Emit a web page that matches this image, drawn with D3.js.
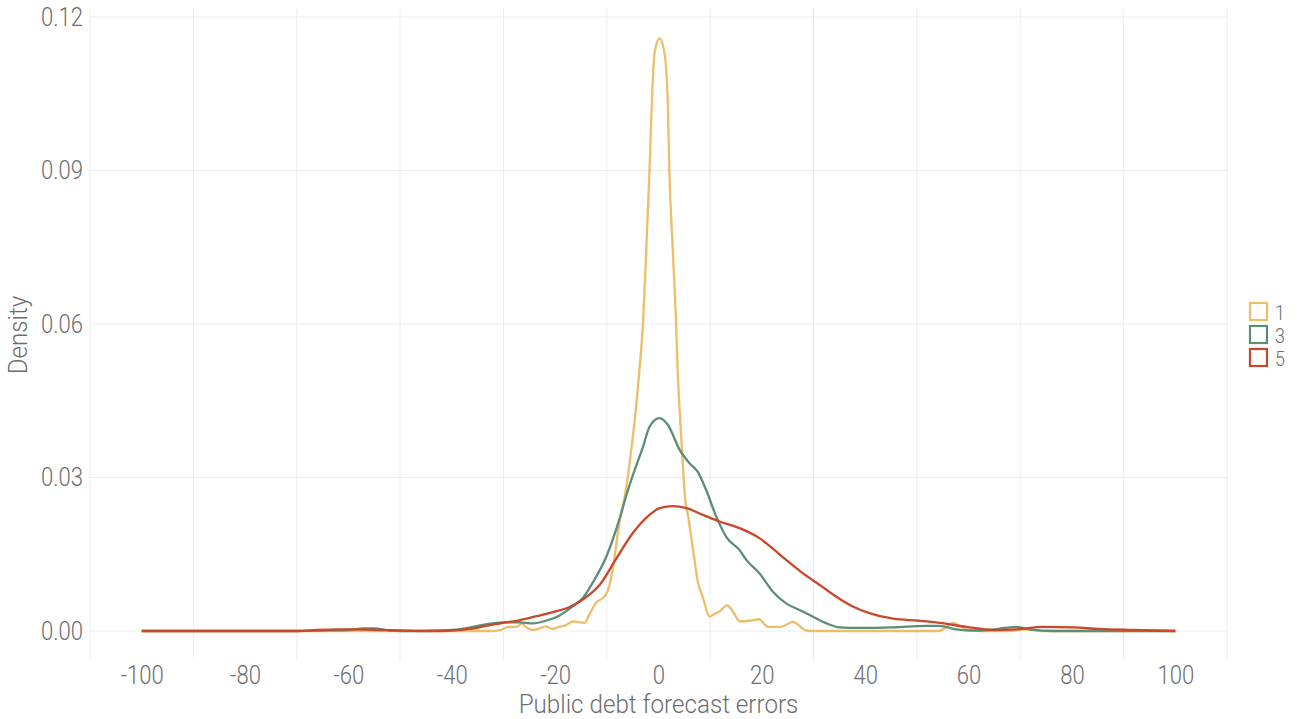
<!DOCTYPE html>
<html>
<head>
<meta charset="utf-8">
<script src="https://cdn.jsdelivr.net/npm/d3@7"></script>
<style>
  html, body { margin: 0; padding: 0; background: #ffffff; }
  svg text { font-family: Roboto, "Noto Sans", sans-serif; font-weight: 300; fill: #6e6e6e; }
</style>
</head>
<body>
<svg id="chart" width="1299" height="719"></svg>
<script>
// Forecast horizon groups (years ahead)
const horizons = ["1", "3", "5"];
const colors = ["#EDBD68", "#5C8E77", "#C9472A"];

// Kernel density of public debt forecast errors, horizon 1
const errors1 = [-100, -40, -32, -30.5, -29, -27.5, -26.5, -25.5, -24.3, -23, -21.8, -20.5, -19.2, -18, -16.5, -15.3, -14.3, -13.4, -12.1, -10.5, -9.6, -8.8, -7.6, -6.3, -5.6, -4.6, -3.7, -3.0, -2.4, -1.74, -1.3, -0.77, 0.2, 1.16, 1.8, 2.1, 2.8, 3.4, 3.7, 4.2, 4.7, 5.0, 5.8, 6.6, 7.6, 8.6, 9.9, 10.8, 11.8, 13.3, 14.4, 15.7, 17.6, 19.4, 21.2, 23.7, 26, 28.6, 30, 54, 55.5, 57, 58.5, 60, 62, 68, 71, 74, 100];
const density1 = [0, 0, 0, 0.0002, 0.0008, 0.0008, 0.0014, 0.0007, 0.0002, 0.0005, 0.0009, 0.0004, 0.0008, 0.0011, 0.0019, 0.0017, 0.0016, 0.0032, 0.0055, 0.0067, 0.0085, 0.0125, 0.021, 0.0276, 0.0328, 0.0412, 0.051, 0.0601, 0.0738, 0.09, 0.1031, 0.1129, 0.1158, 0.1129, 0.1031, 0.09, 0.0738, 0.0601, 0.051, 0.0412, 0.0328, 0.0276, 0.022, 0.0165, 0.0097, 0.0065, 0.0028, 0.0033, 0.0038, 0.005, 0.0038, 0.0019, 0.002, 0.0023, 0.0008, 0.0008, 0.0018, 0.0001, 0, 0, 0.0006, 0.0016, 0.0009, 0.0002, 0, 0, 0.0003, 0, 0];

// Horizon 3
const errors3 = [-100, -70, -65, -60, -57, -55, -52, -48, -42, -39.8, -35.9, -33.4, -30.1, -26.9, -24.3, -21.8, -19.2, -16.6, -14.6, -12.7, -10.1, -7.6, -5.9, -4.6, -3.0, -1.74, 0.2, 1.8, 4.1, 6.0, 7.6, 9.2, 11.2, 13.1, 15.7, 17, 19.6, 22.1, 24.7, 27.3, 29.9, 32.5, 35, 38.9, 45.4, 51.8, 54.4, 57.6, 60, 64, 67, 69.2, 72.5, 76, 100];
const density3 = [0, 0, 0.0001, 0.0002, 0.0005, 0.0005, 0.0001, 0, 0.0001, 0.0002, 0.0008, 0.0013, 0.0017, 0.0017, 0.0015, 0.002, 0.003, 0.0048, 0.0065, 0.0095, 0.0145, 0.0217, 0.0276, 0.0315, 0.036, 0.0399, 0.0416, 0.0403, 0.0354, 0.0328, 0.0311, 0.0276, 0.0223, 0.0184, 0.0158, 0.0139, 0.0112, 0.0077, 0.0054, 0.0041, 0.0028, 0.0015, 0.0007, 0.0006, 0.0007, 0.001, 0.001, 0.0003, 0.0001, 0.0002, 0.0006, 0.0008, 0.0002, 0, 0];

// Horizon 5
const errors5 = [-100, -70, -66, -62, -58, -54, -50, -44, -40, -36.6, -33.4, -30.1, -26.9, -23.6, -20.4, -17.2, -15.3, -13.5, -11.4, -8.2, -5, -1.74, 0.2, 2.8, 5.4, 8.6, 11.8, 15.7, 19.6, 22, 24.7, 27.9, 31.2, 34.4, 37.6, 40.8, 45.4, 50.5, 54.4, 59.6, 64.7, 69.2, 74.4, 80.2, 85.3, 91.8, 100];
const density5 = [0, 0, 0.0002, 0.0003, 0.0003, 0.0002, 0.0001, 0, 0.0001, 0.0004, 0.001, 0.0016, 0.0021, 0.0029, 0.0037, 0.0047, 0.0057, 0.007, 0.009, 0.0141, 0.0191, 0.0227, 0.024, 0.0244, 0.024, 0.0227, 0.0214, 0.0201, 0.0181, 0.0162, 0.0139, 0.0113, 0.009, 0.0067, 0.0048, 0.0035, 0.0024, 0.002, 0.0016, 0.0008, 0.0002, 0.0003, 0.0008, 0.0007, 0.0004, 0.0002, 0];

const xTicks = [-100, -80, -60, -40, -20, 0, 20, 40, 60, 80, 100];
const xGrid = [-110, -90, -70, -50, -30, -10, 10, 30, 50, 70, 90, 110];
const yTicks = [0, 0.03, 0.06, 0.09, 0.12];

const series = [
  { name: horizons[0], color: colors[0], xs: errors1, ys: density1 },
  { name: horizons[1], color: colors[1], xs: errors3, ys: density3 },
  { name: horizons[2], color: colors[2], xs: errors5, ys: density5 }
];

const svg = d3.select("#chart");
const panel = { left: 90, right: 1227, top: 9, bottom: 661 };

const x = d3.scaleLinear().domain([-110, 110]).range([panel.left, panel.right]);
const y = d3.scaleLinear().domain([0, 0.12]).range([631, 17]);

// Grid
const grid = svg.append("g").attr("stroke", "#ececec").attr("stroke-width", 1);
grid.selectAll("line.v").data(xGrid).join("line")
  .attr("class", "v")
  .attr("x1", d => x(d)).attr("x2", d => x(d))
  .attr("y1", panel.top).attr("y2", panel.bottom);
grid.selectAll("line.h").data(yTicks).join("line")
  .attr("class", "h")
  .attr("x1", panel.left).attr("x2", panel.right)
  .attr("y1", d => y(d)).attr("y2", d => y(d));

// Axes (labels only); plain hyphen for negatives
const xAxis = svg.append("g")
  .attr("transform", `translate(0,${panel.bottom})`)
  .call(d3.axisBottom(x).tickValues(xTicks).tickSize(0).tickPadding(6).tickFormat(d => String(d)));
const yAxis = svg.append("g")
  .attr("transform", `translate(${panel.left},0)`)
  .call(d3.axisLeft(y).tickValues(yTicks).tickSize(0).tickPadding(7).tickFormat(d3.format(".2f")));
[xAxis, yAxis].forEach(a => {
  a.select(".domain").remove();
  a.selectAll("text").attr("font-family", null).attr("fill", null).style("font-size", "26px");
});
xAxis.selectAll("text").attr("dy", "0.71em").attr("y", 5);

// Axis titles
const xTitle = svg.append("text")
  .attr("x", x(0)).attr("y", 713)
  .attr("text-anchor", "middle")
  .style("font-size", "26px")
  .text("Public debt forecast errors");
const yTitle = svg.append("text")
  .attr("transform", `translate(27,${(panel.top + panel.bottom) / 2}) rotate(-90)`)
  .attr("text-anchor", "middle")
  .style("font-size", "26px")
  .text("Density");

// Density curves
const line = d3.line()
  .x(d => x(d[0]))
  .y(d => y(d[1]))
  .curve(d3.curveMonotoneX);
svg.append("g").selectAll("path").data(series).join("path")
  .attr("d", s => line(s.xs.map((v, i) => [v, s.ys[i]])))
  .attr("fill", "none")
  .attr("stroke", s => s.color)
  .attr("stroke-width", 2.3)
  .attr("stroke-linejoin", "round");

// Legend
const legend = svg.append("g").attr("transform", "translate(1249,302)");
const item = legend.selectAll("g").data(series).join("g")
  .attr("transform", (d, i) => `translate(0,${i * 23})`);
item.append("rect")
  .attr("x", 1).attr("y", 1).attr("width", 17).attr("height", 17)
  .attr("fill", "#ffffff")
  .attr("stroke", d => d.color)
  .attr("stroke-width", 2.2);
item.append("text")
  .attr("x", 26).attr("y", 10).attr("dy", "0.36em")
  .style("font-size", "21px")
  .text(d => d.name);

// Narrow the light face to a condensed width
svg.selectAll("text").each(function () {
  const len = this.getComputedTextLength();
  const k = (this === xTitle.node() || this === yTitle.node()) ? 0.93 : 0.85;
  d3.select(this).attr("textLength", len * k).attr("lengthAdjust", "spacingAndGlyphs");
});
</script>
</body>
</html>
